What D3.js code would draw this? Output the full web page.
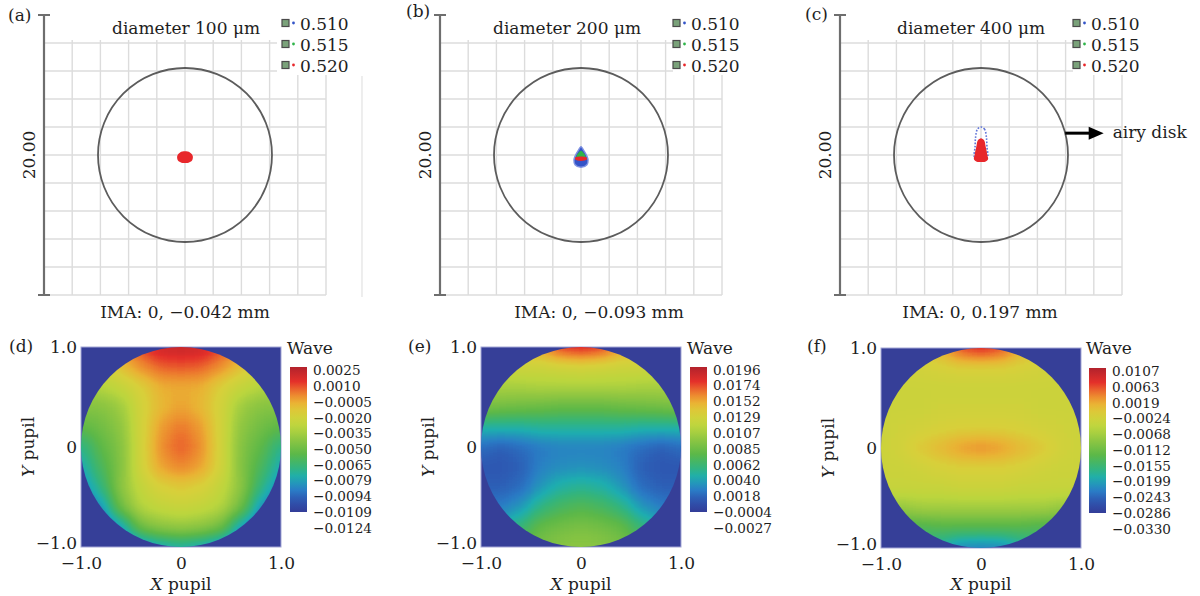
<!DOCTYPE html>
<html>
<head>
<meta charset="utf-8">
<script src="https://cdn.jsdelivr.net/npm/d3@7"></script>
<style>
  body { margin: 0; background: #fff; }
  text { font-family: "DejaVu Serif", serif; font-size: 17px; fill: #1e1e1e; }
  .cbaxis text { font-size: 13.6px; }
</style>
</head>
<body>
<svg id="fig" width="1200" height="596"></svg>
<script>
// ---------- spot diagrams (a)-(c) ----------
const wavelengths = ["0.510", "0.515", "0.520"];
const spotTitles = ["diameter 100 μm", "diameter 200 μm", "diameter 400 μm"];
const imaLabels = ["IMA: 0, −0.042 mm", "IMA: 0, −0.093 mm", "IMA: 0, 0.197 mm"];
const scaleBarLabel = "20.00";
const gridTicksUm = [-10, -8, -6, -4, -2, 0, 2, 4, 6, 8, 10];
const airyRadiusUm = 6.17;
const airyArrow = { y: 1.56, xEnd: 8.7, label: "airy disk" };

// spot outlines in um, one per wavelength (0.510, 0.515, 0.520)
const spotsA = [
  [[0, 0.1], [0.3, 0], [0.4, -0.2], [0.3, -0.42], [0, -0.48], [-0.3, -0.42], [-0.4, -0.2], [-0.3, 0]],
  [[0, 0.15], [0.32, 0.05], [0.45, -0.2], [0.32, -0.45], [0, -0.5], [-0.32, -0.45], [-0.45, -0.2], [-0.32, 0.05]],
  [[0, 0.26], [0.35, 0.18], [0.55, -0.08], [0.5, -0.4], [0.25, -0.55], [0, -0.57], [-0.25, -0.55], [-0.5, -0.4], [-0.55, -0.08], [-0.35, 0.18]]
];
const spotsB = [
  [[0, 0.6], [0.18, 0.35], [0.38, 0], [0.5, -0.35], [0.42, -0.7], [0, -0.88], [-0.42, -0.7], [-0.5, -0.35], [-0.38, 0], [-0.18, 0.35]],
  [[0, 0.3], [0.22, 0.1], [0.33, -0.12], [0, -0.2], [-0.33, -0.12], [-0.22, 0.1]],
  [[0, -0.1], [0.4, -0.17], [0.42, -0.3], [0, -0.42], [-0.42, -0.3], [-0.4, -0.17]]
];
const spotsC = [
  [[0, 2.0], [0.25, 1.85], [0.38, 1.3], [0.42, 0.6], [0.45, -0.2], [0, -0.45], [-0.45, -0.2], [-0.42, 0.6], [-0.38, 1.3], [-0.25, 1.85]],
  [[0, 1.0], [0.3, 0.5], [0.4, -0.2], [0, -0.4], [-0.4, -0.2], [-0.3, 0.5]],
  [[0, 1.2], [0.22, 1.05], [0.33, 0.6], [0.45, 0], [0.5, -0.3], [0.3, -0.48], [0, -0.5], [-0.3, -0.48], [-0.5, -0.3], [-0.45, 0], [-0.33, 0.6], [-0.22, 1.05]]
];
const spotSets = [spotsA, spotsB, spotsC];

// ---------- wavefront maps (d)-(f) ----------
const pupilGrid = [-1, -0.8, -0.6, -0.4, -0.2, 0, 0.2, 0.4, 0.6, 0.8, 1];
const pupilRows = [1, 0.8, 0.6, 0.4, 0.2, 0, -0.2, -0.4, -0.6, -0.8, -1];
const pupilTicks = [-1, 0, 1];

const waveTicksD = [0.0025, 0.0010, -0.0005, -0.0020, -0.0035, -0.0050, -0.0065, -0.0079, -0.0094, -0.0109, -0.0124];
const waveTicksE = [0.0196, 0.0174, 0.0152, 0.0129, 0.0107, 0.0085, 0.0062, 0.0040, 0.0018, -0.0004, -0.0027];
const waveTicksF = [0.0107, 0.0063, 0.0019, -0.0024, -0.0068, -0.0112, -0.0155, -0.0199, -0.0243, -0.0286, -0.0330];

const waveD = [
  [-0.0027, -0.0020, -0.0005, 0.0007, 0.0018, 0.0019, 0.0018, 0.0007, -0.0005, -0.0020, -0.0027],
  [-0.0032, -0.0026, -0.0017, -0.0005, 0.0003, 0.0004, 0.0003, -0.0005, -0.0017, -0.0026, -0.0032],
  [-0.0041, -0.0038, -0.0032, -0.0023, -0.0012, -0.0011, -0.0012, -0.0023, -0.0032, -0.0038, -0.0041],
  [-0.0052, -0.0052, -0.0045, -0.0026, -0.0014, -0.0009, -0.0014, -0.0026, -0.0045, -0.0052, -0.0052],
  [-0.0064, -0.0058, -0.0050, -0.0026, -0.0008, 0.0000, -0.0008, -0.0026, -0.0050, -0.0058, -0.0064],
  [-0.0082, -0.0064, -0.0053, -0.0026, -0.0005, 0.0004, -0.0005, -0.0026, -0.0053, -0.0064, -0.0082],
  [-0.0090, -0.0070, -0.0053, -0.0026, -0.0009, -0.0003, -0.0009, -0.0026, -0.0053, -0.0070, -0.0090],
  [-0.0099, -0.0079, -0.0050, -0.0032, -0.0023, -0.0020, -0.0023, -0.0032, -0.0050, -0.0079, -0.0099],
  [-0.0109, -0.0096, -0.0058, -0.0038, -0.0032, -0.0030, -0.0032, -0.0038, -0.0058, -0.0096, -0.0109],
  [-0.0117, -0.0112, -0.0093, -0.0058, -0.0050, -0.0047, -0.0050, -0.0058, -0.0093, -0.0112, -0.0117],
  [-0.0117, -0.0117, -0.0112, -0.0102, -0.0091, -0.0087, -0.0091, -0.0102, -0.0112, -0.0117, -0.0117]
];
const waveE = [
  [0.0129, 0.0134, 0.0140, 0.0147, 0.0174, 0.0180, 0.0174, 0.0147, 0.0140, 0.0134, 0.0129],
  [0.0111, 0.0113, 0.0116, 0.0116, 0.0118, 0.0120, 0.0118, 0.0116, 0.0116, 0.0113, 0.0111],
  [0.0096, 0.0096, 0.0096, 0.0098, 0.0098, 0.0098, 0.0098, 0.0098, 0.0096, 0.0096, 0.0096],
  [0.0076, 0.0073, 0.0071, 0.0069, 0.0067, 0.0067, 0.0067, 0.0069, 0.0071, 0.0073, 0.0076],
  [0.0031, 0.0031, 0.0031, 0.0033, 0.0033, 0.0033, 0.0033, 0.0033, 0.0031, 0.0031, 0.0031],
  [0.0000, -0.0005, 0.0000, 0.0006, 0.0009, 0.0009, 0.0009, 0.0006, 0.0000, -0.0005, 0.0000],
  [-0.0009, -0.0009, -0.0005, 0.0009, 0.0013, 0.0015, 0.0013, 0.0009, -0.0005, -0.0009, -0.0009],
  [-0.0005, -0.0005, 0.0000, 0.0018, 0.0031, 0.0035, 0.0031, 0.0018, 0.0000, -0.0005, -0.0005],
  [0.0006, 0.0006, 0.0018, 0.0040, 0.0053, 0.0058, 0.0053, 0.0040, 0.0018, 0.0006, 0.0006],
  [0.0029, 0.0029, 0.0044, 0.0067, 0.0073, 0.0076, 0.0073, 0.0067, 0.0044, 0.0029, 0.0029],
  [0.0040, 0.0051, 0.0062, 0.0076, 0.0082, 0.0085, 0.0082, 0.0076, 0.0062, 0.0051, 0.0040]
];
const waveF = [
  [-0.0042, -0.0033, -0.0024, -0.0002, 0.0055, 0.0072, 0.0055, -0.0002, -0.0024, -0.0033, -0.0042],
  [-0.0050, -0.0046, -0.0042, -0.0037, -0.0033, -0.0033, -0.0033, -0.0037, -0.0042, -0.0046, -0.0050],
  [-0.0050, -0.0050, -0.0050, -0.0050, -0.0050, -0.0050, -0.0050, -0.0050, -0.0050, -0.0050, -0.0050],
  [-0.0050, -0.0050, -0.0050, -0.0046, -0.0046, -0.0046, -0.0046, -0.0046, -0.0050, -0.0050, -0.0050],
  [-0.0050, -0.0046, -0.0042, -0.0037, -0.0033, -0.0033, -0.0033, -0.0037, -0.0042, -0.0046, -0.0050],
  [-0.0050, -0.0042, -0.0024, -0.0007, 0.0011, 0.0020, 0.0011, -0.0007, -0.0024, -0.0042, -0.0050],
  [-0.0050, -0.0050, -0.0046, -0.0037, -0.0033, -0.0033, -0.0033, -0.0037, -0.0046, -0.0050, -0.0050],
  [-0.0055, -0.0055, -0.0055, -0.0055, -0.0050, -0.0050, -0.0050, -0.0055, -0.0055, -0.0055, -0.0055],
  [-0.0103, -0.0103, -0.0094, -0.0094, -0.0094, -0.0094, -0.0094, -0.0094, -0.0094, -0.0103, -0.0103],
  [-0.0173, -0.0173, -0.0173, -0.0164, -0.0164, -0.0164, -0.0164, -0.0164, -0.0173, -0.0173, -0.0173],
  [-0.0199, -0.0199, -0.0199, -0.0225, -0.0260, -0.0264, -0.0260, -0.0225, -0.0199, -0.0199, -0.0199]
];
const waveSets = [waveD, waveE, waveF];
const waveTickSets = [waveTicksD, waveTicksE, waveTicksF];

// ---------- styling / layout ----------
const wlColors = ["#3354c8", "#2fb44a", "#e8272b"];
const paletteStops = [0, 0.08, 0.15, 0.24, 0.31, 0.40, 0.50, 0.59, 0.68, 0.75, 0.82, 0.90, 1];
const paletteColors = ["#333d98", "#2e55b0", "#2a7cc6", "#1eaeb0", "#35b57a", "#5cb848", "#8ec642",
  "#bcd63e", "#d8d03a", "#eab334", "#ee7f2e", "#e4302a", "#b2222c"];
const palette = d3.scaleLinear().domain(paletteStops).range(paletteColors).interpolate(d3.interpolateRgb);

const spotLayout = [
  { x0: 44, letter: "(a)", letterX: 8, letterY: 21, titleX: 112, imaX: 185, legX: 282 },
  { x0: 440, letter: "(b)", letterX: 406, letterY: 17, titleX: 493, imaX: 599, legX: 673 },
  { x0: 840, letter: "(c)", letterX: 805, letterY: 20, titleX: 897, imaX: 980, legX: 1073 }
];
const spotStyle = [["fill", "fill", "fill"], ["fill", "fill", "fill"], ["dots", "fill", "fill"]];

const mapLayout = [
  { x0: 81, y0: 347, cbX: 290, letter: "(d)", letterX: 9 },
  { x0: 481, y0: 347, cbX: 690, letter: "(e)", letterX: 408 },
  { x0: 881, y0: 348, cbX: 1089, letter: "(f)", letterX: 807 }
];

const svg = d3.select("#fig");
const defs = svg.append("defs");

// ---------- draw spot panels ----------
spotLayout.forEach((L, p) => {
  const sx = d3.scaleLinear().domain([-10, 10]).range([L.x0, L.x0 + 282]);
  const sy = d3.scaleLinear().domain([-10, 10]).range([295, 15]);
  const g = svg.append("g");

  g.selectAll(".vgrid").data(gridTicksUm.slice(1)).join("line")
    .attr("x1", d => sx(d)).attr("x2", d => sx(d))
    .attr("y1", sy(-10)).attr("y2", sy(10))
    .attr("stroke", "#dcdcdc").attr("stroke-width", 1.4);
  g.selectAll(".hgrid").data(gridTicksUm.slice(0, -1)).join("line")
    .attr("x1", sx(-10)).attr("x2", sx(10))
    .attr("y1", d => sy(d)).attr("y2", d => sy(d))
    .attr("stroke", "#dcdcdc").attr("stroke-width", 1.4);

  // label boxes hide the top grid row
  g.append("rect").attr("x", L.x0 + 2).attr("y", 10).attr("width", 231).attr("height", 30).attr("fill", "#fff");
  g.append("rect").attr("x", L.x0 + 233).attr("y", 8).attr("width", 75).attr("height", 67).attr("fill", "#fff");

  // scale bar
  g.append("line").attr("x1", sx(-10)).attr("x2", sx(-10)).attr("y1", sy(-10)).attr("y2", sy(10))
    .attr("stroke", "#6e6e6e").attr("stroke-width", 2.2);
  [-10, 10].forEach(v => {
    g.append("line").attr("x1", sx(-10) - 6).attr("x2", sx(-10) + 6).attr("y1", sy(v)).attr("y2", sy(v))
      .attr("stroke", "#6e6e6e").attr("stroke-width", 2);
  });
  g.append("text").attr("transform", `translate(${L.x0 - 15},${sy(0)}) rotate(-90)`)
    .attr("text-anchor", "middle").attr("dy", "0.36em").text(scaleBarLabel);

  // airy disk
  g.append("circle").attr("cx", sx(0)).attr("cy", sy(0)).attr("r", sx(airyRadiusUm) - sx(0))
    .attr("fill", "none").attr("stroke", "#5c5c5c").attr("stroke-width", 1.8);

  // spots
  const line = d3.line().x(d => sx(d[0])).y(d => sy(d[1])).curve(d3.curveCatmullRomClosed);
  spotSets[p].forEach((pts, w) => {
    const path = g.append("path").attr("d", line(pts));
    if (spotStyle[p][w] === "dots") {
      path.attr("fill", "none").attr("stroke", "#5f74d8").attr("stroke-width", 1.6)
        .attr("stroke-dasharray", "1.6,1.6");
    } else {
      path.attr("fill", wlColors[w]);
      if (w === 0) path.attr("stroke", "#8093e2").attr("stroke-width", 1.4);
    }
  });

  // titles
  g.append("text").attr("x", L.titleX).attr("y", 33.5).text(spotTitles[p]);
  g.append("text").attr("x", L.letterX).attr("y", L.letterY).text(L.letter);
  g.append("text").attr("x", L.imaX).attr("y", 318).attr("text-anchor", "middle").text(imaLabels[p]);

  // legend
  wavelengths.forEach((wl, i) => {
    const base = 29.5 + 21 * i;
    g.append("rect").attr("x", L.legX).attr("y", base - 10).attr("width", 7).attr("height", 7)
      .attr("fill", "#7aa27a").attr("stroke", "#4a4a4a").attr("stroke-width", 1.2);
    g.append("circle").attr("cx", L.legX + 11.5).attr("cy", base - 6.5).attr("r", 1.4).attr("fill", wlColors[i]);
    g.append("text").attr("x", L.legX + 18).attr("y", base).text(wl);
  });

  if (p === 2) {
    const ay = sy(airyArrow.y);
    const ax1 = sx(Math.sqrt(airyRadiusUm * airyRadiusUm - airyArrow.y * airyArrow.y));
    const ax2 = sx(airyArrow.xEnd);
    g.append("line").attr("x1", ax1).attr("x2", ax2 - 12).attr("y1", ay).attr("y2", ay)
      .attr("stroke", "#000").attr("stroke-width", 3);
    g.append("path").attr("d", `M${ax2},${ay}L${ax2 - 15},${ay - 6.5}L${ax2 - 15},${ay + 6.5}Z`).attr("fill", "#000");
    g.append("text").attr("x", ax2 + 9).attr("y", ay + 5).text(airyArrow.label);
  }
});

// faint frame line to the right of (a)
svg.append("line").attr("x1", 362).attr("x2", 362).attr("y1", 76).attr("y2", 297)
  .attr("stroke", "#e2e2e2").attr("stroke-width", 1.2);

// ---------- draw wavefront panels ----------
const nTable = 64;
const tableSamples = d3.range(nTable).map(i => d3.rgb(palette(i / (nTable - 1))));
const tableFor = ch => tableSamples.map(c => (c[ch] / 255).toFixed(4)).join(" ");
const fmtPupil = d => d === 0 ? "0" : d3.format(".1f")(d);

mapLayout.forEach((L, p) => {
  const ticks = waveTickSets[p];
  const vmin = d3.min(ticks), vmax = d3.max(ticks);
  const tScale = d3.scaleLinear().domain([vmin, vmax]).range([0, 1]).clamp(true);
  const px = d3.scaleLinear().domain([-1, 1]).range([L.x0, L.x0 + 200]);
  const py = d3.scaleLinear().domain([-1, 1]).range([L.y0 + 200, L.y0]);
  const id = "wf" + p;

  const filter = defs.append("filter").attr("id", id)
    .attr("filterUnits", "userSpaceOnUse")
    .attr("x", L.x0 - 30).attr("y", L.y0 - 30).attr("width", 260).attr("height", 260)
    .attr("color-interpolation-filters", "sRGB");
  filter.append("feGaussianBlur").attr("stdDeviation", 8);
  const ct = filter.append("feComponentTransfer");
  ct.append("feFuncR").attr("type", "table").attr("tableValues", tableFor("r"));
  ct.append("feFuncG").attr("type", "table").attr("tableValues", tableFor("g"));
  ct.append("feFuncB").attr("type", "table").attr("tableValues", tableFor("b"));
  ct.append("feFuncA").attr("type", "linear").attr("slope", 20).attr("intercept", 0);

  defs.append("clipPath").attr("id", "clip" + p).append("circle")
    .attr("cx", px(0)).attr("cy", py(0)).attr("r", px(1) - px(0));

  const g = svg.append("g");
  g.append("rect").attr("x", px(-1)).attr("y", py(1)).attr("width", px(1) - px(-1)).attr("height", py(-1) - py(1))
    .attr("fill", "#363f98").attr("stroke", "#a4a7d6").attr("stroke-width", 1);

  const cells = [];
  waveSets[p].forEach((row, i) => row.forEach((v, j) => cells.push({ x: pupilGrid[j], y: pupilRows[i], v })));
  const half = 0.1;
  g.append("g").attr("clip-path", `url(#clip${p})`)
    .append("g").attr("filter", `url(#${id})`)
    .selectAll("rect").data(cells).join("rect")
    .attr("x", d => px(d.x - half)).attr("y", d => py(d.y + half))
    .attr("width", px(half) - px(-half) + 0.5).attr("height", py(-half) - py(half) + 0.5)
    .attr("fill", d => { const k = Math.round(255 * tScale(d.v)); return `rgb(${k},${k},${k})`; });

  // axes
  g.append("g").attr("transform", `translate(${px(-1)},0)`)
    .call(d3.axisLeft(py).tickValues(pupilTicks).tickSize(0).tickPadding(4).tickFormat(fmtPupil))
    .call(a => a.select(".domain").remove())
    .call(a => a.selectAll("text").filter(d => d === -1).attr("dy", "0.08em"));
  g.append("g").attr("transform", `translate(0,${py(-1)})`)
    .call(d3.axisBottom(px).tickValues(pupilTicks).tickSize(0).tickPadding(10).tickFormat(fmtPupil))
    .call(a => a.select(".domain").remove());

  const xl = g.append("text").attr("x", px(0)).attr("y", 590).attr("text-anchor", "middle");
  xl.append("tspan").attr("font-style", "italic").text("X");
  xl.append("tspan").text(" pupil");
  const yl = g.append("text").attr("transform", `translate(${L.x0 - 53},${py(0)}) rotate(-90)`)
    .attr("text-anchor", "middle").attr("dy", "0.36em");
  yl.append("tspan").attr("font-style", "italic").text("Y");
  yl.append("tspan").text(" pupil");

  g.append("text").attr("x", L.letterX).attr("y", 352).text(L.letter);

  // colorbar
  const gid = "cb" + p;
  const grad = defs.append("linearGradient").attr("id", gid)
    .attr("x1", 0).attr("y1", 1).attr("x2", 0).attr("y2", 0);
  d3.range(21).forEach(i => {
    grad.append("stop").attr("offset", i / 20).attr("stop-color", palette(i / 20));
  });
  g.append("rect").attr("x", L.cbX).attr("y", L.y0 + 20).attr("width", 17).attr("height", 145)
    .attr("fill", `url(#${gid})`);
  g.append("text").attr("x", L.cbX - 3).attr("y", 354).text("Wave");
  const cbScale = d3.scaleLinear().domain([ticks[0], ticks[ticks.length - 1]]).range([L.y0 + 23, L.y0 + 181]);
  g.append("g").attr("class", "cbaxis").attr("transform", `translate(${L.cbX + 23},0)`)
    .call(d3.axisRight(cbScale).tickValues(ticks).tickSize(0).tickPadding(0).tickFormat(d3.format(".4f")))
    .call(a => a.select(".domain").remove());
});
</script>
</body>
</html>
